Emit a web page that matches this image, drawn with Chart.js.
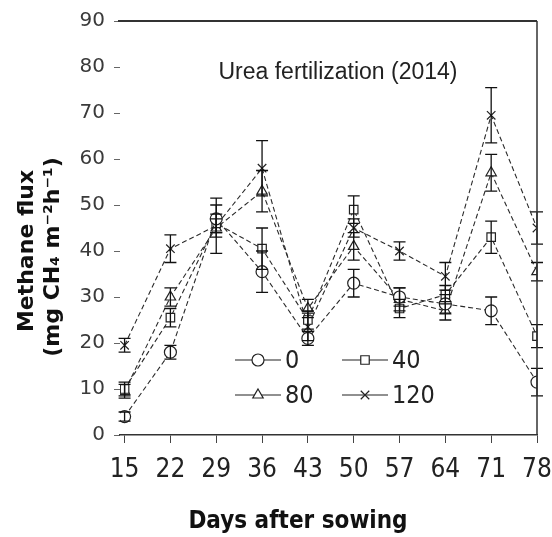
<!DOCTYPE html>
<html>
<head>
<meta charset="utf-8">
<script src="https://cdn.jsdelivr.net/npm/chart.js@4.4.1/dist/chart.umd.min.js"></script>
<style>
  html, body { margin: 0; padding: 0; background: #fff; }
</style>
</head>
<body>
<canvas id="chart" width="552" height="537"></canvas>
<script>
// days after sowing
var days = [15, 22, 29, 36, 43, 50, 57, 64, 71, 78];
var yTicks = [0, 10, 20, 30, 40, 50, 60, 70, 80, 90];

// methane flux per urea rate (kg N/ha)
var rates = ["0", "40", "80", "120"];
var flux0   = [4, 18, 47, 35.5, 21, 33, 30, 28.5, 27, 11.5];
var flux40  = [10, 25.5, 46, 40.5, 25, 49, 27.5, 30.5, 43, 21.5];
var flux80  = [9.5, 30, 45, 53, 27.5, 41, 29.5, 27, 57, 35.5];
var flux120 = [19.5, 40.5, 45.5, 58, 23.5, 45, 40, 34.5, 69.5, 45];

// error bars (+/-)
var err0   = [1, 1.5, 3, 4.5, 1.5, 3, 2, 2, 3, 3];
var err40  = [1.5, 2, 2, 4.5, 2, 3, 2, 2, 3.5, 2.5];
var err80  = [1.5, 2, 2, 4.5, 2, 3, 2.5, 2, 4, 2];
var err120 = [1.5, 3, 6, 6, 3, 2, 2, 3, 6, 3.5];

var NARROW = "'Liberation Sans Narrow', 'DejaVu Sans Condensed', sans-serif";

function makeSet(label, values, errors, style) {
  return {
    label: label,
    data: days.map(function(d, i) { return {x: d, y: values[i]}; }),
    errors: errors,
    borderColor: "#2a2a2a",
    borderWidth: 1.1,
    borderDash: [5, 3],
    pointStyle: style,
    pointRadius: 6,
    pointBorderColor: "#222",
    pointBackgroundColor: "#fff",
    pointBorderWidth: 1.2,
    tension: 0,
    fill: false
  };
}

var errorBars = {
  id: "errorBars",
  afterDatasetsDraw: function(chart) {
    var ctx = chart.ctx, xs = chart.scales.x, ys = chart.scales.y;
    ctx.save();
    ctx.strokeStyle = "#111";
    ctx.lineWidth = 1.3;
    chart.data.datasets.forEach(function(ds) {
      ds.data.forEach(function(p, i) {
        var e = ds.errors[i];
        var px = xs.getPixelForValue(p.x);
        var top = ys.getPixelForValue(p.y + e), bot = ys.getPixelForValue(p.y - e);
        ctx.beginPath();
        ctx.moveTo(px, top); ctx.lineTo(px, bot);
        ctx.moveTo(px - 6, top); ctx.lineTo(px + 6, top);
        ctx.moveTo(px - 6, bot); ctx.lineTo(px + 6, bot);
        ctx.stroke();
      });
    });
    ctx.restore();
  }
};

var decorations = {
  id: "decorations",
  afterDraw: function(chart) {
    var ctx = chart.ctx, a = chart.chartArea;
    ctx.save();
    // top and right frame
    ctx.strokeStyle = "#333";
    ctx.lineWidth = 2;
    ctx.beginPath();
    ctx.moveTo(a.left - 2, a.top); ctx.lineTo(a.right, a.top);
    ctx.stroke();
    ctx.lineWidth = 1.5;
    ctx.beginPath();
    ctx.moveTo(a.right, a.top); ctx.lineTo(a.right, a.bottom);
    ctx.stroke();

    // inner title
    ctx.fillStyle = "#222";
    ctx.textAlign = "center";
    ctx.textBaseline = "middle";
    ctx.font = "23px 'Liberation Sans', Arial, sans-serif";
    ctx.fillText("Urea fertilization (2014)", 338, 73);

    // axis titles
    ctx.fillStyle = "#111";
    ctx.font = "bold 24px " + NARROW;
    ctx.fillText("Days after sowing", 298, 522);
    ctx.font = "bold 22px 'DejaVu Sans', sans-serif";
    ctx.save();
    ctx.translate(27, 251); ctx.rotate(-Math.PI / 2);
    ctx.fillText("Methane flux", 0, 0);
    ctx.restore();
    ctx.save();
    ctx.translate(53, 257); ctx.rotate(-Math.PI / 2);
    ctx.fillText("(mg CH\u2084 m\u207B\u00B2h\u207B\u00B9)", 0, 0);
    ctx.restore();

    // legend, 2 x 2 inside the plot
    var slots = [[235, 360], [342, 360], [235, 395], [342, 395]];
    chart.data.datasets.forEach(function(ds, i) {
      var sx = slots[i][0], sy = slots[i][1];
      ctx.strokeStyle = "#222";
      ctx.lineWidth = 1.2;
      ctx.beginPath();
      ctx.moveTo(sx, sy); ctx.lineTo(sx + 46, sy);
      ctx.stroke();
      ctx.fillStyle = "#fff";
      Chart.helpers.drawPoint(ctx, {pointStyle: ds.pointStyle, radius: 6, borderWidth: 1.2, rotation: 0}, sx + 23, sy);
      ctx.fillStyle = "#222";
      ctx.textAlign = "left";
      ctx.font = "25px " + NARROW;
      ctx.fillText(ds.label, sx + 50, sy + 1);
    });
    ctx.restore();
  }
};

window.chart = new Chart(document.getElementById("chart").getContext("2d"), {
  type: "line",
  data: {
    datasets: [
      makeSet(rates[0], flux0, err0, "circle"),
      makeSet(rates[1], flux40, err40, "rect"),
      makeSet(rates[2], flux80, err80, "triangle"),
      makeSet(rates[3], flux120, err120, "crossRot")
    ]
  },
  options: {
    responsive: false,
    animation: false,
    layout: { padding: { left: 0, right: 15, top: 19, bottom: 0 } },
    plugins: { legend: { display: false }, tooltip: { enabled: false } },
    scales: {
      x: {
        type: "linear",
        min: 14.3,
        max: 78,
        afterBuildTicks: function(s) { s.ticks = days.map(function(d) { return {value: d}; }); },
        afterFit: function(s) { s.height = 102; s.paddingLeft = 0; s.paddingRight = 0; },
        grid: { drawOnChartArea: false, drawTicks: true, tickLength: 8, color: "#444" },
        border: { display: true, color: "#333", width: 1.5 },
        ticks: {
          autoSkip: false, maxRotation: 0, padding: 12, color: "#222",
          font: { family: NARROW, size: 26 }
        }
      },
      y: {
        min: 0,
        max: 90,
        afterBuildTicks: function(s) { s.ticks = yTicks.map(function(v) { return {value: v}; }); },
        afterFit: function(s) { s.width = 120; },
        grid: { drawOnChartArea: false, drawTicks: true, tickLength: 6, color: "#666" },
        border: { display: false },
        ticks: {
          padding: 9, color: "#3a3a3a",
          font: { family: "'DejaVu Sans', sans-serif", size: 20 }
        }
      }
    }
  },
  plugins: [errorBars, decorations]
});
</script>
</body>
</html>
